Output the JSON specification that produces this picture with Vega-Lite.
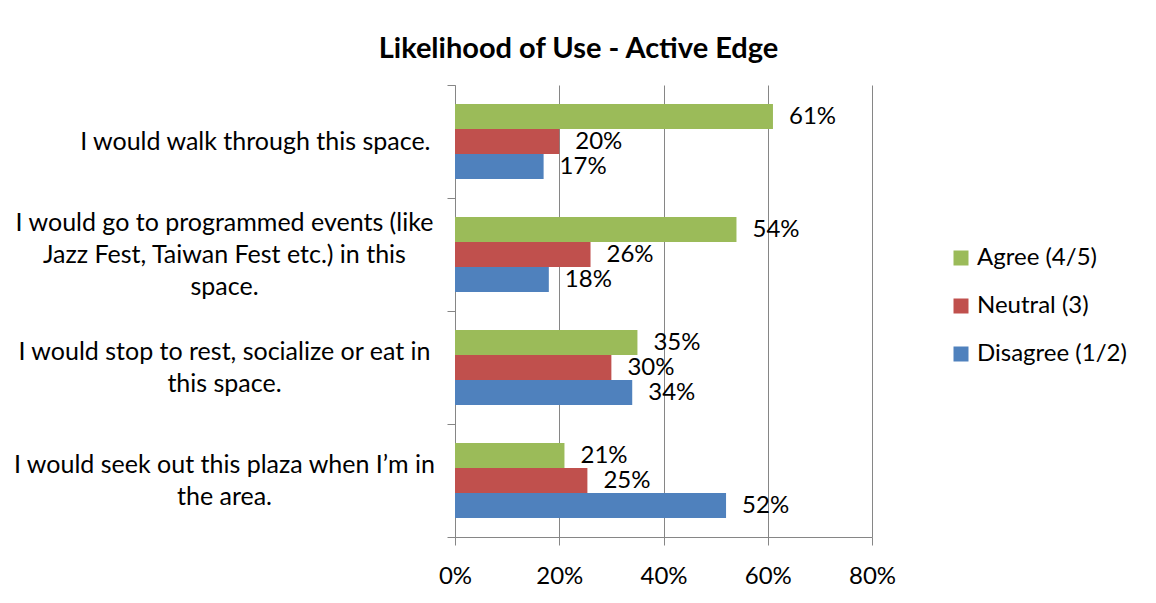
{
  "$schema": "https://vega.github.io/schema/vega-lite/v6.json",
  "width": 417,
  "height": 452,
  "autosize": "none",
  "padding": {"left": 455, "top": 85, "right": 284, "bottom": 66},
  "background": "white",
  "title": {
    "text": "Likelihood of Use - Active Edge",
    "fontSize": 29,
    "fontWeight": "bold",
    "font": "Lato",
    "color": "black",
    "anchor": "middle",
    "dx": -85,
    "offset": 9
  },
  "data": {
    "values": [
      {"statement": "I would walk through this space.", "response": "Agree (4/5)", "pct": 0.61},
      {"statement": "I would walk through this space.", "response": "Neutral (3)", "pct": 0.20},
      {"statement": "I would walk through this space.", "response": "Disagree (1/2)", "pct": 0.17},
      {"statement": "I would go to programmed events (like|Jazz Fest, Taiwan Fest etc.) in this|space.", "response": "Agree (4/5)", "pct": 0.54},
      {"statement": "I would go to programmed events (like|Jazz Fest, Taiwan Fest etc.) in this|space.", "response": "Neutral (3)", "pct": 0.26},
      {"statement": "I would go to programmed events (like|Jazz Fest, Taiwan Fest etc.) in this|space.", "response": "Disagree (1/2)", "pct": 0.18},
      {"statement": "I would stop to rest, socialize or eat in|this space.", "response": "Agree (4/5)", "pct": 0.35},
      {"statement": "I would stop to rest, socialize or eat in|this space.", "response": "Neutral (3)", "pct": 0.30},
      {"statement": "I would stop to rest, socialize or eat in|this space.", "response": "Disagree (1/2)", "pct": 0.34},
      {"statement": "I would seek out this plaza when I’m in|the area.", "response": "Agree (4/5)", "pct": 0.21},
      {"statement": "I would seek out this plaza when I’m in|the area.", "response": "Neutral (3)", "pct": 0.254},
      {"statement": "I would seek out this plaza when I’m in|the area.", "response": "Disagree (1/2)", "pct": 0.52}
    ]
  },
  "encoding": {
    "y": {
      "field": "statement",
      "type": "nominal",
      "sort": null,
      "title": null,
      "scale": {"paddingInner": 0, "paddingOuter": 0},
      "axis": {
        "labelExpr": "split(datum.label, '|')",
        "labelAlign": {"condition": {"test": "indexof(datum.label, '|') < 0", "value": "right"}, "value": "center"},
        "labelPadding": {"condition": {"test": "indexof(datum.label, '|') < 0", "value": 17}, "value": 223},
        "labelOffset": {"condition": [{"test": "indexof(datum.label, '|') < 0", "value": 0}, {"test": "length(split(datum.label, '|')) == 3", "value": -32}], "value": -16},
        "labelBaseline": "middle",
        "labelLimit": 0,
        "labelFont": "Lato",
        "labelFontSize": 25,
        "labelLineHeight": 32,
        "labelColor": "black",
        "tickBand": "extent",
        "tickSize": 8,
        "tickColor": "#868686",
        "domainColor": "#868686",
        "grid": false
      }
    },
    "yOffset": {
      "field": "response",
      "sort": ["Agree (4/5)", "Neutral (3)", "Disagree (1/2)"],
      "scale": {"paddingInner": 0, "paddingOuter": 0.76}
    },
    "x": {
      "field": "pct",
      "type": "quantitative",
      "title": null,
      "scale": {"domain": [0, 0.8], "nice": false},
      "axis": {
        "values": [0, 0.2, 0.4, 0.6, 0.8],
        "format": ".0%",
        "grid": true,
        "gridColor": "#868686",
        "domainColor": "#868686",
        "tickColor": "#868686",
        "tickSize": 8,
        "labelFlush": false,
        "labelFont": "Lato",
        "labelFontSize": 24,
        "labelColor": "black",
        "labelPadding": 19
      }
    }
  },
  "layer": [
    {
      "mark": {"type": "bar"},
      "encoding": {
        "color": {
          "field": "response",
          "type": "nominal",
          "sort": ["Agree (4/5)", "Neutral (3)", "Disagree (1/2)"],
          "scale": {
            "domain": ["Agree (4/5)", "Neutral (3)", "Disagree (1/2)"],
            "range": ["#9BBB59", "#C0504D", "#4F81BD"]
          },
          "legend": {
            "title": null,
            "orient": "none",
            "legendX": 494,
            "legendY": 161,
            "symbolType": "square",
            "symbolSize": 225,
            "symbolStrokeWidth": 0,
            "labelFont": "Lato",
            "labelFontSize": 24,
            "labelColor": "black",
            "labelOffset": 4,
            "rowPadding": 24
          }
        }
      }
    },
    {
      "mark": {"type": "text", "align": "left", "baseline": "middle", "dx": 16, "font": "Lato", "fontSize": 24, "color": "black"},
      "encoding": {
        "text": {"field": "pct", "type": "quantitative", "format": ".0%"}
      }
    }
  ],
  "config": {"view": {"stroke": null}}
}
